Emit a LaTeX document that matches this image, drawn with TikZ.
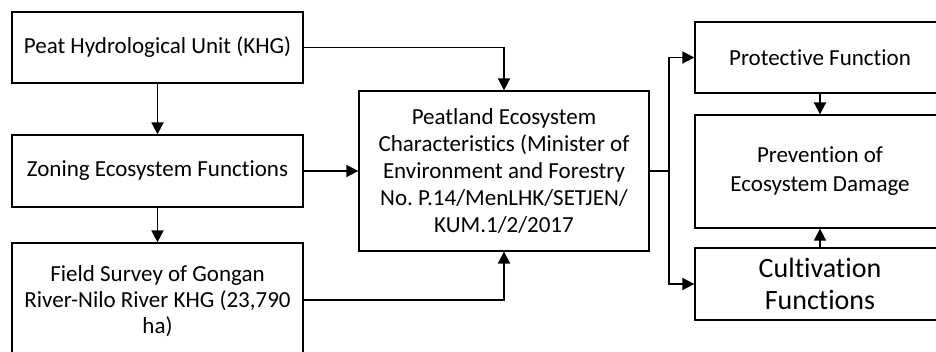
\documentclass[tikz,border=0pt]{standalone}
\usepackage{fontspec}
\setmainfont[Ligatures=CommonOff]{Carlito}
\frenchspacing
\usetikzlibrary{arrows.meta}
\tikzset{
  box/.style={draw=black, line width=1.3pt, align=center, inner sep=2pt, fill=white,
    font=\fontsize{23}{27}\selectfont},
  conn/.style={line width=1.8pt, -{Triangle[length=12pt,width=12pt]}},
  plain/.style={line width=1.8pt}
}
\begin{document}
\begin{tikzpicture}[x=1pt,y=-1pt]
\fill[white] (0,0) rectangle (936,351);
\clip (0,0) rectangle (936,351);
\node[box, minimum width=291pt, minimum height=71pt] (A) at (157.5,47.5) {Peat Hydrological Unit (KHG)};
\node[box, minimum width=291pt, minimum height=72pt] (B) at (157.5,171) {Zoning Ecosystem Functions};
\node[box, minimum width=291pt, minimum height=116pt, font=\fontsize{23}{26}\selectfont] (C) at (157.5,301) {Field Survey of Gongan\\River-Nilo River KHG (23,790\\ha)};
\node[box, minimum width=290pt, minimum height=160pt] (D) at (504,171) {Peatland Ecosystem\\Characteristics (Minister of\\Environment and Forestry\\No. P.14/MenLHK/SETJEN/\\KUM.1/2/2017};
\node[box, minimum width=250pt, minimum height=71pt] (E) at (820,57.5) {Protective Function};
\node[box, minimum width=250pt, minimum height=113pt, font=\fontsize{23}{29}\selectfont] (F) at (820,171.5) {Prevention of\\Ecosystem Damage};
\node[box, minimum width=250pt, minimum height=72pt, font=\fontsize{28}{32}\selectfont] (G) at (820,284) {Cultivation\\Functions};
\coordinate (j) at (669,171);
\draw[conn] (A.south) -- (B.north);
\draw[conn] (B.south) -- (C.north);
\draw[conn] (A.east) -| (D.north);
\draw[conn] (B.east) -- (D.west);
\draw[conn] (C.east |- 0,300) -| (D.south);
\draw[plain] (D.east) -- (j);
\draw[conn] (j) |- (E.west);
\draw[conn] (j) |- (G.west);
\draw[conn] (E.south) -- (F.north);
\draw[conn] (G.north) -- (F.south);
\end{tikzpicture}
\end{document}
